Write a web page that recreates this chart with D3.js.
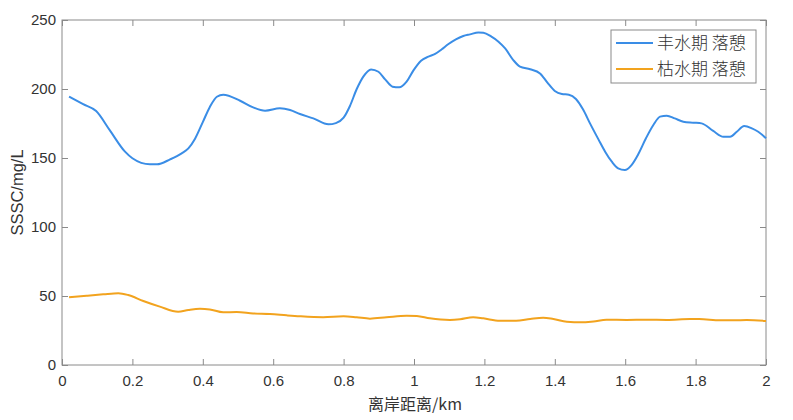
<!DOCTYPE html>
<html><head><meta charset="utf-8">
<script src="https://cdn.jsdelivr.net/npm/d3@7"></script>
<style>body{margin:0;background:#fff}svg{display:block}</style>
</head><body>
<svg id="c" width="793" height="420"></svg>
<script>
const seriesNames = ["丰水期 落憩", "枯水期 落憩"];
const blueX = [0.02,0.06,0.097,0.136,0.179,0.2,0.25,0.27,0.307,0.34,0.359,0.378,0.40,0.42,0.44,0.458,0.506,0.543,0.577,0.619,0.648,0.676,0.714,0.757,0.778,0.80,0.818,0.837,0.856,0.878,0.899,0.918,0.939,0.958,0.979,0.998,1.02,1.041,1.06,1.079,1.097,1.119,1.14,1.159,1.183,1.197,1.22,1.24,1.259,1.282,1.301,1.33,1.358,1.379,1.40,1.42,1.44,1.46,1.48,1.5,1.524,1.543,1.562,1.58,1.599,1.618,1.637,1.659,1.68,1.699,1.718,1.741,1.765,1.794,1.817,1.85,1.879,1.898,1.917,1.938,1.96,1.978,2.0];
const blueY = [194.5,189,184,170,154.6,149.8,145.4,145.4,149,153.4,157,164,176,187,194.4,195.9,191.5,186.7,184.3,186,184.8,181.9,178.7,174.4,175.3,179.2,187.7,199.8,209,214.2,212.5,207,201.7,201.2,205.3,213.3,220.5,223.4,225.4,228.8,232.4,236,238.4,239.6,241,240.8,237.9,234.3,229.4,221,216.2,214.3,211.3,204.6,198.6,196.4,195.9,192.8,185.3,175.1,163.5,154.6,147.3,142.5,141.3,144.9,152.7,164.3,173.9,180,180.7,178.7,176.3,175.6,175.1,169.6,165.4,165.4,169,173.2,171.5,169,164.3];
const orangeX = [0.02,0.07,0.117,0.16,0.188,0.231,0.278,0.33,0.359,0.392,0.42,0.458,0.496,0.543,0.591,0.638,0.676,0.742,0.8,0.837,0.875,0.922,0.979,1.008,1.045,1.102,1.131,1.168,1.197,1.244,1.29,1.33,1.367,1.396,1.434,1.476,1.51,1.547,1.604,1.66,1.718,1.784,1.81,1.87,1.91,1.945,2.0];
const orangeY = [49.1,50.2,51.2,52,50.7,46.4,42.3,38.6,39.9,40.8,40.3,38.2,38.4,37.4,37,36,35.3,34.6,35.3,34.6,33.6,34.6,35.7,35.5,33.8,32.6,33.1,34.6,33.8,32.1,32.1,33.4,34.3,33.3,31.4,30.9,31.6,32.8,32.6,32.8,32.6,33.3,33.3,32.4,32.4,32.6,31.9];
const xTicks = [0,0.2,0.4,0.6,0.8,1,1.2,1.4,1.6,1.8,2];
const yTicks = [0,50,100,150,200,250];
const colors = ["#3a8de6", "#f2a31e"];

const svg = d3.select("#c");
const L = 62, R = 766, T = 20, B = 365;
const x = d3.scaleLinear().domain([0,2]).range([L,R]);
const y = d3.scaleLinear().domain([0,250]).range([B,T]);
const axisColor = "#8a8a8a";
const tickFont = "'Liberation Sans', Arial, sans-serif";

const g = svg.append("g");
g.append("rect").attr("x",L).attr("y",T).attr("width",R-L).attr("height",B-T)
  .attr("fill","none").attr("stroke",axisColor).attr("stroke-width",1);

function styleAxis(sel, showLabels){
  sel.select(".domain").remove();
  sel.selectAll(".tick line").attr("stroke",axisColor);
  sel.selectAll(".tick text").attr("fill","#333").style("font-family",tickFont).style("font-size","15px");
  if(!showLabels) sel.selectAll(".tick text").remove();
}
const fmt = d => String(d);
g.append("g").attr("transform",`translate(0,${B})`)
  .call(d3.axisBottom(x).tickValues(xTicks).tickFormat(fmt).tickSize(-6).tickPadding(10))
  .call(s=>styleAxis(s,true));
g.append("g").attr("transform",`translate(0,${T})`)
  .call(d3.axisTop(x).tickValues(xTicks).tickSize(-6))
  .call(s=>styleAxis(s,false));
g.append("g").attr("transform",`translate(${L},0)`)
  .call(d3.axisLeft(y).tickValues(yTicks).tickFormat(fmt).tickSize(-6).tickPadding(6))
  .call(s=>styleAxis(s,true));
g.append("g").attr("transform",`translate(${R},0)`)
  .call(d3.axisRight(y).tickValues(yTicks).tickSize(-6))
  .call(s=>styleAxis(s,false));

const line = d3.line().x(d=>x(d[0])).y(d=>y(d[1])).curve(d3.curveMonotoneX);
const blue = blueX.map((v,i)=>[v,blueY[i]]);
const orange = orangeX.map((v,i)=>[v,orangeY[i]]);
g.append("path").datum(blue).attr("d",line).attr("fill","none").attr("stroke",colors[0]).attr("stroke-width",2);
g.append("path").datum(orange).attr("d",line).attr("fill","none").attr("stroke",colors[1]).attr("stroke-width",2);

svg.append("text").attr("x",(L+R)/2+1).attr("y",410).attr("text-anchor","middle")
  .style("font-family","'Noto Sans CJK SC', sans-serif").style("font-size","16px").attr("fill","#333")
  .text("离岸距离/km");
svg.append("text").attr("transform",`translate(23,${(T+B)/2}) rotate(-90)`).attr("text-anchor","middle")
  .style("font-family",tickFont).style("font-size","16.5px").attr("fill","#333")
  .text("SSSC/mg/L");

const lg = svg.append("g");
lg.append("rect").attr("x",611).attr("y",30).attr("width",145).attr("height",53)
  .attr("fill","#fff").attr("stroke",axisColor).attr("stroke-width",1);
seriesNames.forEach((n,i)=>{
  const yy = 43 + i*26;
  lg.append("line").attr("x1",616).attr("x2",653).attr("y1",yy).attr("y2",yy).attr("stroke",colors[i]).attr("stroke-width",2);
  lg.append("text").attr("x",657).attr("y",yy+6).style("font-family","'Noto Sans CJK SC', sans-serif")
    .style("font-size","17px").style("font-weight","300").attr("fill","#333").text(n);
});
</script>
</body></html>
